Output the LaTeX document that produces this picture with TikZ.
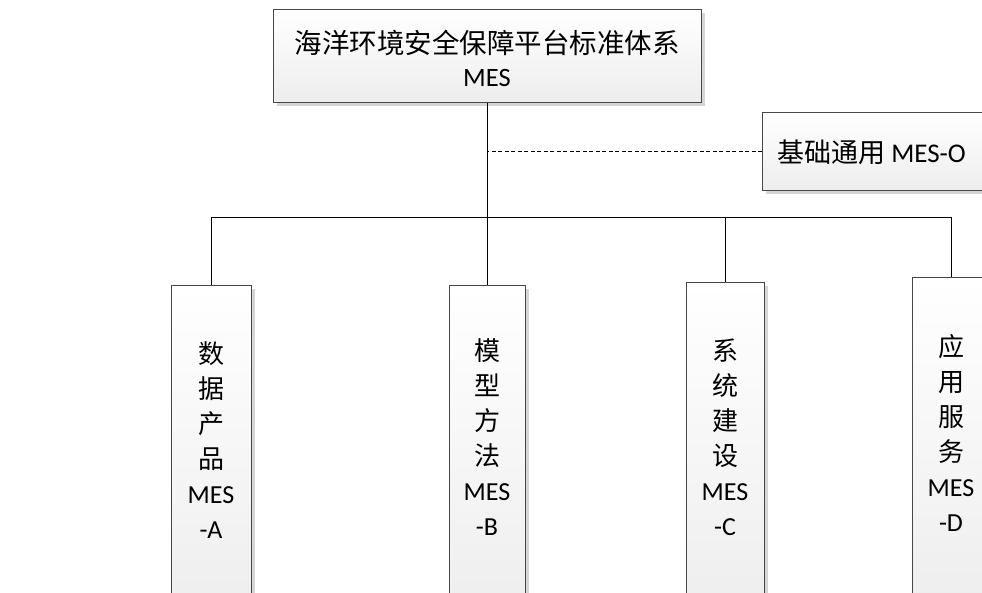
\documentclass[tikz,border=0pt]{standalone}
\usepackage{fontspec}
\setmainfont{Carlito}
\newfontfamily\cjk{Noto Sans CJK SC}
\usetikzlibrary{shadows}
\begin{document}
\begin{tikzpicture}[x=1pt,y=-1pt,
  box/.style={draw=black!72, line width=0.8pt, top color=white, bottom color=black!7,
    drop shadow={shadow xshift=4pt, shadow yshift=-4pt, fill=black!16, opacity=1},
    anchor=north west, inner sep=0pt},
  conn/.style={draw=black, line width=0.8pt},
  lbl/.style={font=\fontsize{26pt}{35pt}\selectfont, align=center, inner sep=0pt}]
\useasboundingbox (0,0) rectangle (982,593);
\clip (0,0) rectangle (982,593);
% boxes
\node[box, minimum width=428pt, minimum height=93pt] (top) at (273,9) {};
\node[box, minimum width=240pt, minimum height=78pt] (O) at (762,112) {};
\node[box, minimum width=80pt, minimum height=340pt] (A) at (171,285) {};
\node[box, minimum width=76pt, minimum height=340pt] (B) at (449,285) {};
\node[box, minimum width=78pt, minimum height=340pt] (C) at (686,282) {};
\node[box, minimum width=78pt, minimum height=340pt] (D) at (912,277) {};
% labels
\node[lbl, font=\fontsize{26.5pt}{33pt}\selectfont] (toptext) at (487,58) {{\cjk\fontsize{27.5pt}{33pt}\selectfont 海洋环境安全保障平台标准体系}\\MES};
\node[lbl, anchor=west, font=\fontsize{27pt}{35pt}\selectfont] (otext) at (777,152) {{\cjk 基础通用} MES-O};
\node[lbl] (Atext) at (211,440) {{\cjk 数}\\{\cjk 据}\\{\cjk 产}\\{\cjk 品}\\MES\\-A};
\node[lbl] (Btext) at (487,437) {{\cjk 模}\\{\cjk 型}\\{\cjk 方}\\{\cjk 法}\\MES\\-B};
\node[lbl] (Ctext) at (725,437) {{\cjk 系}\\{\cjk 统}\\{\cjk 建}\\{\cjk 设}\\MES\\-C};
\node[lbl] (Dtext) at (951,433) {{\cjk 应}\\{\cjk 用}\\{\cjk 服}\\{\cjk 务}\\MES\\-D};
% connectors
\coordinate (bus) at (487,217);
\draw[conn] (top.south) -- (B.north);
\draw[conn] (A.north) -- (A.north |- bus) -- (D.north |- bus) -- (D.north);
\draw[conn] (C.north |- bus) -- (C.north);
\draw[conn, dashed, dash pattern=on 4pt off 2.5pt] (O.west) -- (O.west -| top.south);
\end{tikzpicture}
\end{document}
